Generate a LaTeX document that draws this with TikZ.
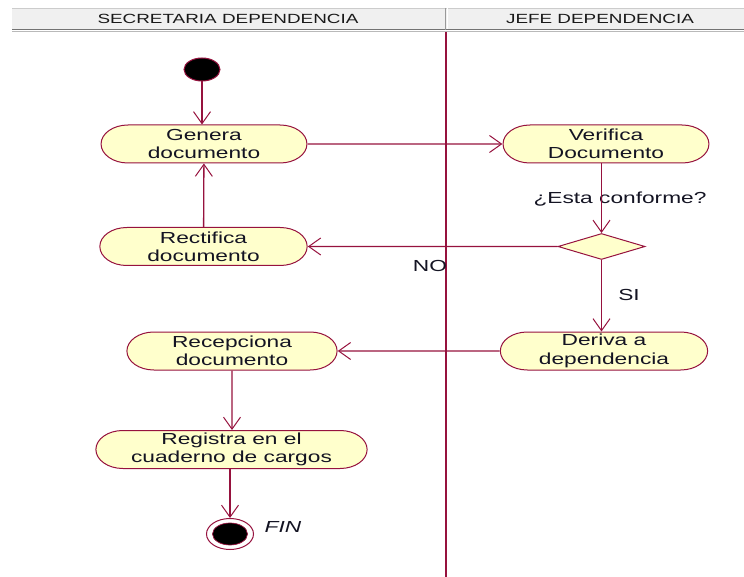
\documentclass[tikz,border=0pt]{standalone}
\usepackage{fontspec}
\setmainfont{Liberation Sans}
\usetikzlibrary{shapes.misc,shapes.geometric,arrows.meta}
\definecolor{lc}{RGB}{150,18,62}
\definecolor{actfill}{RGB}{255,255,204}
\definecolor{txt}{RGB}{20,20,35}
\definecolor{hdr}{RGB}{240,240,240}
\tikzset{
  act/.style={rounded rectangle, draw=lc, fill=actfill, line width=1pt,
    minimum height=38pt, inner sep=0pt, xscale=1.42, align=center, text=txt,
    font=\fontsize{16}{18.3}\selectfont},
  lbl/.style={xscale=1.42, inner sep=0pt, text=txt, font=\fontsize{16}{18.3}\selectfont},
  hdrtxt/.style={xscale=1.42, inner sep=0pt, text=black!90, font=\fontsize{13.3}{15}\selectfont},
  arr/.style={draw=lc, line width=1.3pt, -{Straight Barb[length=12pt,width=17pt,line width=1pt]}},
  lane/.style={draw=lc, line width=1.4pt},
}
\begin{document}
\begin{tikzpicture}[x=1pt,y=-1pt]
\useasboundingbox (0,0) rectangle (744,577);
% header band
\fill[hdr] (12,8) rectangle (744,30);
\draw[gray!40, line width=0.6pt] (12,8) -- (744,8);
\draw[gray!90!black, line width=1pt] (12,29.5) -- (744,29.5);
\draw[gray!55, line width=1pt] (12,31.8) -- (744,31.8);
\draw[gray!80, line width=1pt] (445.5,8) -- (445.5,30);
\draw[white, line width=1pt] (447.2,8) -- (447.2,29);
\node[hdrtxt] (h1) at (228,18.5) {SECRETARIA DEPENDENCIA};
\node[hdrtxt] (h2) at (600,18.5) {JEFE DEPENDENCIA};
% lane divider
\coordinate (laneTop) at (446,31.8);
\coordinate (laneBot) at (446,577);
\draw[lane] (laneTop) -- (laneBot);
% nodes
\node[ellipse, draw=lc, fill=black, line width=1pt, minimum width=36pt, minimum height=23pt, inner sep=0pt] (ini) at (202,69.5) {};
\node[act, minimum width=145pt] (gen) at (204,144) {Genera\\documento};
\node[act, minimum width=145pt] (ver) at (606,144) {Verifica\\Documento};
\node[diamond, draw=lc, fill=actfill, line width=1pt, minimum width=87pt, minimum height=26pt, inner sep=0pt, aspect=3.3] (dia) at (601.5,246.5) {};
\node[act, minimum width=146pt] (rec) at (203.5,246.5) {Rectifica\\documento};
\node[act, minimum width=146pt] (der) at (604,351) {Deriva a\\dependencia};
\node[act, minimum width=148pt] (recp) at (232,351) {Recepciona\\documento};
\node[act, minimum width=191pt] (reg) at (231.5,449.5) {Registra en el\\cuaderno de cargos};
\node[ellipse, draw=lc, fill=white, line width=1pt, minimum width=47pt, minimum height=31pt, inner sep=0pt] (fin) at (230,534) {};
\node[ellipse, draw=lc, fill=black, line width=0.7pt, minimum width=35pt, minimum height=22pt, inner sep=0pt] (finin) at (fin) {};
% labels
\node[lbl] (qconf) at (620,199) {¿Esta conforme?};
\node[lbl] (lno) at (430,265.5) {NO};
\node[lbl] (lsi) at (629,295) {SI};
\node[lbl, font=\fontsize{16}{18.3}\selectfont\itshape] (lfin) at (283,527) {FIN};
% connectors
\draw[arr] (ini) -- (ini |- gen.north);
\draw[arr] (gen) -- (ver);
\draw[arr] (rec) -- (gen);
\draw[arr] (ver.south -| dia.north) -- (dia.north);
\draw[arr] (dia) -- (rec);
\draw[arr] (dia) -- (dia |- der.north);
\draw[arr] (der) -- (recp);
\draw[arr] (recp) -- (recp |- reg.north);
\draw[arr] (reg.south -| fin) -- (fin);
\end{tikzpicture}
\end{document}
